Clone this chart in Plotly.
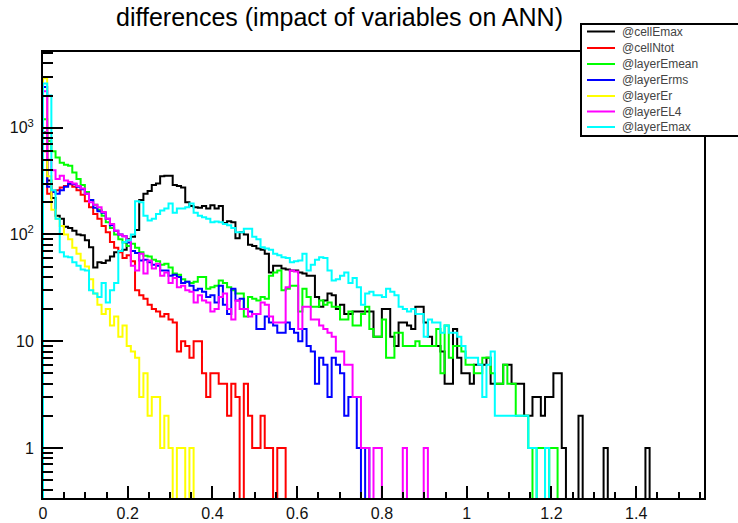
import numpy as np
import plotly.graph_objects as go

# ---- data (bin contents) ----
x_min, x_max = 0.0, 1.56
n_bins = 158

series_names = ["@cellEmax", "@cellNtot", "@layerEmean", "@layerErms",
                "@layerEr", "@layerEL4", "@layerEmax"]
series_colors = ["#000000", "#ff0000", "#00ff00", "#0000ff",
                 "#ffff00", "#ff00ff", "#00ffff"]

cellEmax = [900, 320, 220, 150, 140, 118, 115, 108, 100, 98,
            88, 76, 49, 55, 54, 57, 62, 68, 70, 72,
            90, 95, 110, 210, 240, 255, 290, 300, 350, 355,
            355, 290, 285, 275, 200, 185, 180, 178, 185, 175,
            188, 175, 185, 128, 133, 130, 92, 105, 100, 80,
            78, 74, 72, 66, 44, 51, 51, 48, 47, 46,
            46, 44, 43, 41, 41, 26, 21, 24, 28, 27,
            20, 22, 18, 18, 19, 19, 19, 19, 19, 11,
            11, 20, 20, 11, 9, 15, 15, 14, 13, 21,
            21, 15, 11, 9, 9, 8, 4, 4, 13, 7,
            5, 5, 4, 6, 6, 6, 7, 4, 4, 4,
            6, 6, 4, 4, 4, 2, 2, 3, 3, 2,
            3, 3, 5, 5, 1, 0, 0, 0, 2, 0,
            0, 0, 0, 0, 1, 0, 0, 0, 0, 0,
            0, 0, 0, 0, 1]

cellNtot = [600, 240, 250, 260, 275, 285, 295, 280, 260, 235,
            205, 180, 155, 140, 120, 105, 85, 75, 68, 60,
            64, 56, 30, 27, 25, 22, 20, 19, 17, 18,
            16, 15, 8, 10, 9, 7, 10, 10, 5, 3,
            5, 5, 4, 4, 2, 4, 3, 0, 4, 2,
            1, 1, 2, 1, 1, 0, 1, 1]

layerEmean = [1200, 750, 600, 525, 470, 450, 440, 380, 330, 290,
              250, 210, 190, 170, 150, 130, 115, 100, 90, 84,
              78, 82, 75, 68, 63, 62, 58, 56, 52, 53,
              49, 43, 42, 38, 36, 35, 36, 40, 40, 31,
              32, 33, 37, 35, 32, 30, 28, 28, 17, 26,
              25, 24, 26, 25, 41, 44, 46, 30, 31, 33,
              33, 19, 31, 26, 21, 21, 24, 22, 23, 21,
              21, 16, 16, 19, 14, 14, 18, 21, 13, 11,
              11, 16, 7, 7, 12, 12, 9, 9, 9, 10,
              9, 9, 9, 9, 13, 5, 14, 7, 9, 9,
              8, 6, 6, 5, 5, 7, 7, 5, 4, 4,
              6, 4, 4, 2, 2, 2, 1, 0, 1, 1,
              0, 1, 1]

layerErms = [2400, 280, 250, 240, 260, 280, 300, 295, 280, 265,
             240, 210, 178, 165, 160, 140, 122, 108, 100, 96,
             84, 70, 67, 57, 58, 55, 52, 51, 46, 46,
             41, 42, 40, 35, 36, 33, 30, 31, 29, 26,
             27, 23, 33, 22, 18, 31, 24, 25, 20, 19,
             18, 13, 13, 17, 15, 14, 12, 12, 15, 13,
             12, 10, 13, 9, 8, 4, 7, 6, 3, 7,
             6, 5, 2, 3, 3, 1, 0, 1]

layerEr = [2900, 350, 170, 140, 120, 100, 90, 75, 66, 57,
           50, 38, 28, 22, 18, 20, 14, 17, 11, 14,
           9, 8, 7, 3, 5, 2, 3, 3, 1, 2,
           1, 0, 1, 1, 0, 1]

layerEL4 = [2200, 500, 400, 330, 355, 320, 310, 300, 285, 270,
            240, 200, 190, 180, 162, 140, 125, 108, 100, 96,
            88, 51, 46, 66, 43, 57, 48, 53, 41, 44,
            35, 39, 32, 33, 30, 29, 23, 27, 24, 23,
            19, 20, 26, 28, 20, 16, 24, 20, 20, 17,
            18, 18, 23, 22, 17, 15, 15, 15, 32, 46,
            45, 13, 21, 21, 16, 16, 14, 13, 12, 11,
            8, 8, 6, 6, 3, 3, 1, 1, 0, 1,
            1, 0, 0, 0, 0, 0, 1, 0, 0, 0,
            0, 1]

layerEmax = [2600, 2000, 260, 140, 68, 62, 61, 55, 51, 47,
             46, 30, 28, 26, 35, 23, 30, 35, 70, 85,
             88, 100, 205, 200, 150, 135, 140, 155, 168, 175,
             195, 160, 175, 175, 180, 195, 160, 150, 145, 140,
             130, 132, 130, 125, 122, 115, 105, 105, 113, 113,
             95, 90, 76, 74, 72, 66, 64, 61, 60, 55,
             56, 57, 66, 46, 52, 58, 61, 60, 46, 37,
             38, 41, 44, 35, 39, 32, 22, 28, 29, 27,
             27, 26, 31, 29, 27, 21, 20, 19, 20, 18,
             18, 11, 16, 15, 15, 12, 14, 12, 12, 11,
             9, 7, 7, 7, 6, 3, 6, 8, 2, 2,
             2, 2, 2, 2, 2, 2, 1, 1, 0, 0,
             1]

series_values = [cellEmax, cellNtot, layerEmean, layerErms,
                 layerEr, layerEL4, layerEmax]

y_tick_vals = [1, 10, 100, 1000]
y_tick_text = ["1", "10", "10<sup>2</sup>", "10<sup>3</sup>"]
title_text = "differences (impact of variables on ANN)"

# ---- figure ----
W, H = 738, 523
ML, MR, MT, MB = 43, 34, 52, 25
PW, PH = W - ML - MR, H - MT - MB


def px_to_paper_x(px):
    return (px - ML) / PW


def px_to_paper_y(py):
    return (H - MB - py) / PH


edges = np.linspace(x_min, x_max, n_bins + 1)
floor_val = 1e-3  # empty bins drop below the frame, as in ROOT

fig = go.Figure()
for name, color, vals in zip(series_names, series_colors, series_values):
    v = np.zeros(n_bins)
    v[:len(vals)] = vals
    v = np.where(v > 0, v, floor_val)
    xs = np.concatenate([[edges[0]], edges[:-1], [edges[-1]]])
    ys = np.concatenate([[floor_val], v, [floor_val]])
    fig.add_trace(go.Scatter(
        x=xs, y=ys, mode="lines", name=name,
        line=dict(color=color, width=2, shape="hv"),
        showlegend=False, hoverinfo="skip"))

y_lo, y_hi = -0.469, 3.709
minor_vals = [k * 10.0 ** d for d in range(-1, 4) for k in range(2, 10)
              if 10 ** y_lo <= k * 10.0 ** d <= 10 ** y_hi]

fig.update_layout(
    width=W, height=H,
    margin=dict(l=ML, r=MR, t=MT, b=MB, pad=0),
    paper_bgcolor="white", plot_bgcolor="white",
    font=dict(family="Liberation Sans, Arial, sans-serif", color="#000"),
    showlegend=False,
    xaxis=dict(range=[x_min, x_max], showgrid=False, zeroline=False,
               showline=True, mirror=True, linecolor="black", linewidth=2,
               ticks="inside", ticklen=12, tickwidth=1.5, tickcolor="black",
               tick0=0, dtick=0.2, tickfont=dict(size=16, color="#111"),
               minor=dict(ticks="inside", ticklen=6, tickwidth=1.5,
                          tickcolor="black", dtick=0.05, tick0=0,
                          showgrid=False),
               automargin=False),
    yaxis=dict(type="log", range=[y_lo, y_hi], showgrid=False, zeroline=False,
               showline=True, mirror=True, linecolor="black", linewidth=2,
               ticks="inside", ticklen=20, tickwidth=1.5, tickcolor="black",
               tickmode="array", tickvals=y_tick_vals, ticktext=y_tick_text,
               tickfont=dict(size=16, color="#111"), ticklabelstandoff=4,
               minor=dict(ticks="inside", ticklen=10, tickwidth=1.5,
                          tickcolor="black", tickmode="array",
                          tickvals=minor_vals, showgrid=False),
               automargin=False),
)

# title
fig.add_annotation(text=title_text, xref="paper", yref="paper",
                   x=px_to_paper_x(339.5), y=px_to_paper_y(17),
                   xanchor="center", yanchor="middle", showarrow=False,
                   font=dict(size=25, color="#000",
                             family="Liberation Sans, Arial, sans-serif"))

# legend box (ROOT TLegend style, its right side runs off the canvas)
box_l, box_r, box_t, box_b = 581, 770, 24, 136
fig.add_shape(type="rect", xref="paper", yref="paper",
              x0=px_to_paper_x(box_l), x1=px_to_paper_x(box_r),
              y0=px_to_paper_y(box_b), y1=px_to_paper_y(box_t),
              line=dict(color="black", width=2), fillcolor="white",
              layer="above")
entry_y = [31.5, 48, 64, 80, 96, 111.5, 127]
for name, color, ey in zip(series_names, series_colors, entry_y):
    fig.add_shape(type="line", xref="paper", yref="paper",
                  x0=px_to_paper_x(587), x1=px_to_paper_x(615),
                  y0=px_to_paper_y(ey), y1=px_to_paper_y(ey),
                  line=dict(color=color, width=2), layer="above")
    fig.add_annotation(text=name, xref="paper", yref="paper",
                       x=px_to_paper_x(620), y=px_to_paper_y(ey),
                       xanchor="left", yanchor="middle", showarrow=False,
                       font=dict(size=12, color="#444",
                                 family="Liberation Sans, Arial, sans-serif"))

fig.write_html(
    "out.html",
    config={"displayModeBar": False},
    post_script="document.body.style.margin='0px';"
                "document.body.style.overflow='hidden';")
